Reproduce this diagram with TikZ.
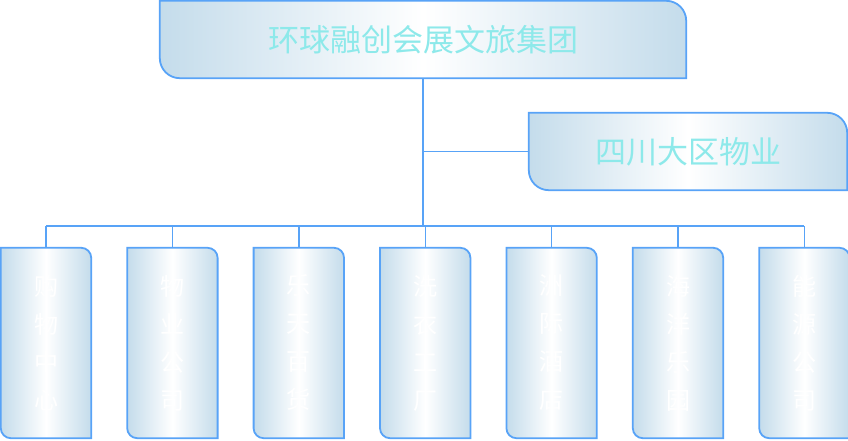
\documentclass[tikz,border=0pt]{standalone}
\usepackage{fontspec}
\newfontfamily\cjk{Noto Sans CJK SC}
\usetikzlibrary{positioning,calc,backgrounds}

\definecolor{edgeblue}{HTML}{58A3F7}
\definecolor{shadeblue}{HTML}{C4DCEB}
\definecolor{titlecyan}{HTML}{8DE9EA}

% box with the top right and bottom left corners rounded
\newcommand{\tabshape}[2]{%
  \draw[tabline] (#1.north west) -- ([xshift=-#2pt]#1.north east)
    arc[start angle=90, end angle=0, radius=#2pt] -- (#1.south east)
    -- ([xshift=#2pt]#1.south west)
    arc[start angle=270, end angle=180, radius=#2pt] -- cycle;}

\begin{document}
\begin{tikzpicture}[x=1pt, y=1pt,
    tabline/.style={draw=edgeblue, line width=1.8pt, left color=shadeblue, right color=shadeblue, middle color=white},
    link/.style={draw=edgeblue, line width=1.4pt},
    headbox/.style={inner sep=0pt, minimum height=77pt, text=titlecyan, font=\cjk\fontsize{31}{31}\selectfont},
    unitbox/.style={inner sep=0pt, minimum width=90pt, minimum height=190pt, text=white, align=center, font=\cjk\fontsize{24}{38}\selectfont}]
    \useasboundingbox (0,0) rectangle (848,440);

    % Row 1
    \node (group) [headbox, minimum width=526pt] at (423,400.5) {环球融创会展文旅集团};
    \node (region) [headbox, minimum width=318pt] at (688,288.5) {四川大区物业};

    % Row 2
    \node (u1) [unitbox] at (46,97) {购\\物\\中\\心};
    \node (u2) [unitbox, right=36pt of u1] {物\\业\\公\\司};
    \node (u3) [unitbox, right=36pt of u2] {乐\\天\\百\\货};
    \node (u4) [unitbox, right=36pt of u3] {洗\\衣\\工\\厂};
    \node (u5) [unitbox, right=36pt of u4] {洲\\际\\酒\\店};
    \node (u6) [unitbox, right=36pt of u5] {海\\洋\\乐\\园};
    \node (u7) [unitbox, right=36pt of u6] {能\\源\\公\\司};

    \begin{scope}[on background layer]
        \foreach \n/\rad in {group/20, region/20, u1/10, u2/10, u3/10, u4/10, u5/10, u6/10, u7/10}
            \tabshape{\n}{\rad};
    \end{scope}

    % Lines
    \coordinate (bus) at (0,214);
    \draw[link] (group.south) -- (group.south |- bus);
    \draw[link] (region.west) -- (region.west -| group.south);
    \draw[link] (u1.north |- bus) -- (u7.north |- bus);
    \foreach \u in {u1,u2,u3,u4,u5,u6,u7}
        \draw[link] (\u.north) -- (\u.north |- bus);
\end{tikzpicture}
\end{document}
